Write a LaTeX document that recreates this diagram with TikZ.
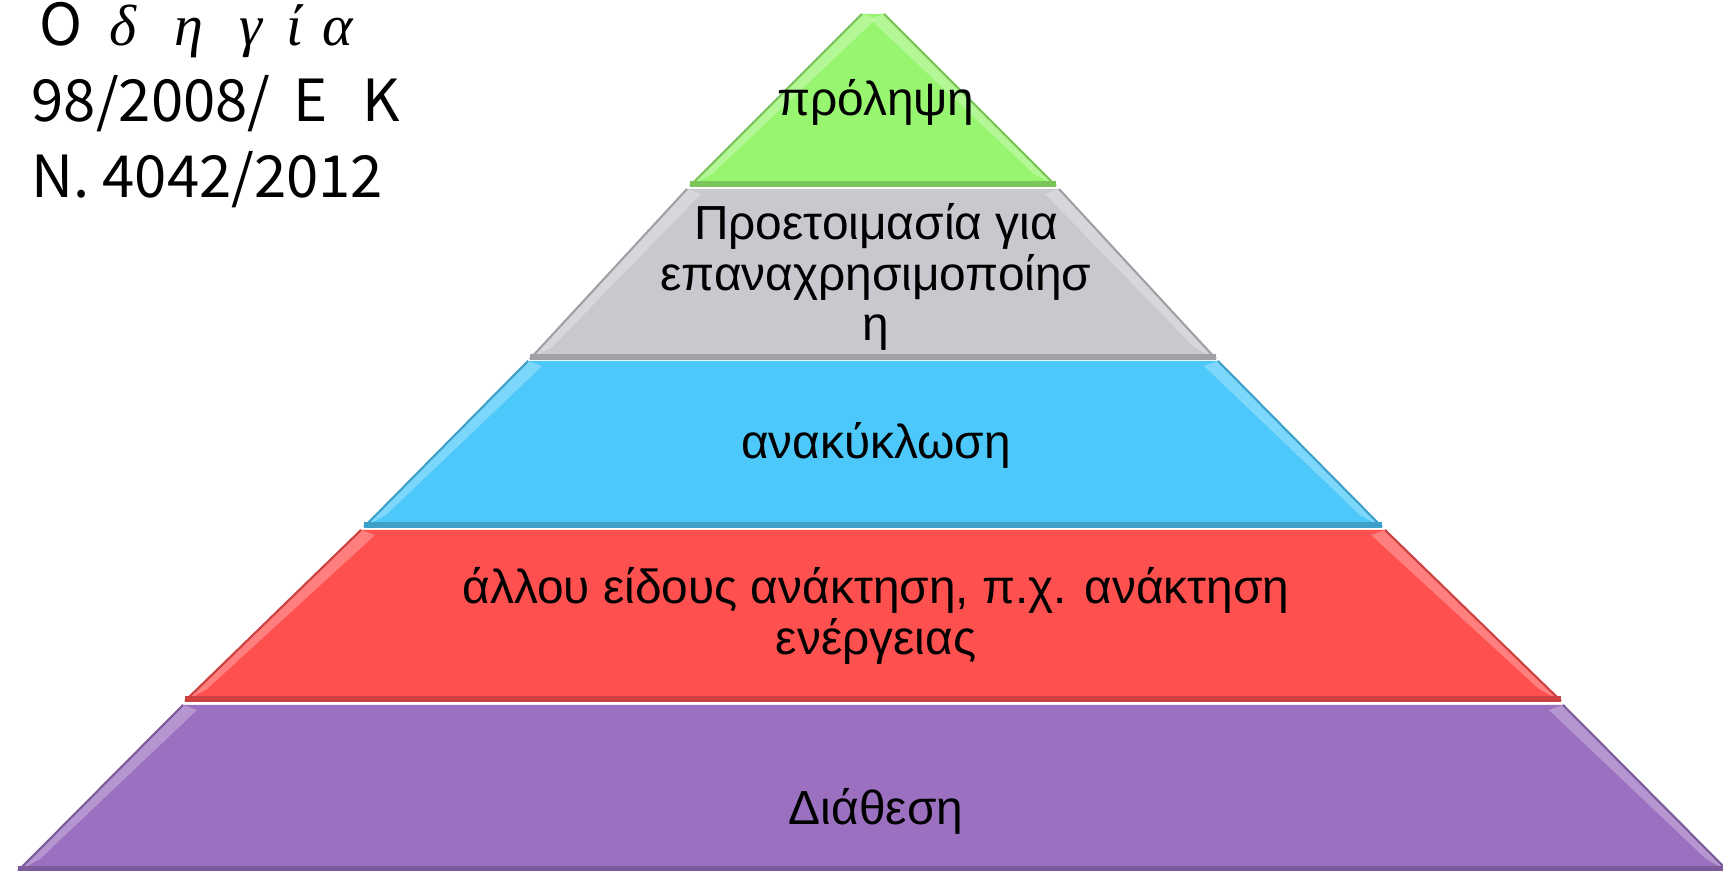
\documentclass[tikz,border=0pt]{standalone}
\usepackage{fontspec}
\usepackage{xcolor}
\usepackage{tikz}
\setmainfont{Liberation Sans}
\newfontfamily\jpfont{Noto Sans CJK JP}
\newfontfamily\grfont{Liberation Serif}
\definecolor{lgreen}{RGB}{152,245,112}
\definecolor{lgray}{RGB}{200,200,207}
\definecolor{lblue}{RGB}{76,200,250}
\definecolor{lred}{RGB}{255,80,80}
\definecolor{lpurple}{RGB}{156,112,192}
\newcommand{\gl}[2]{\makebox[#1cm][l]{#2}}
\begin{document}
\begin{tikzpicture}[x=0.01cm,y=-0.01cm,
  lvl/.style={align=center,font=\fontsize{13.6}{14.3}\selectfont},
  tag/.style={anchor=base west,inner sep=0pt,font=\jpfont\fontsize{16.5}{20}\selectfont}]
  \useasboundingbox (0,0) rectangle (1723,871);
  % pyramid levels: top y / bottom y / top half width / bottom half width / colour
  \foreach \yt/\yb/\wt/\wb/\c in {14/186/11/183/lgreen,189/359/186/343/lgray,
      361/527/345/509/lblue,530/701/512/688/lred,705/871/690/855/lpurple}{
    \fill[\c] (873-\wt,\yt) -- (873+\wt,\yt) -- (873+\wb,\yb) -- (873-\wb,\yb) -- cycle;
    % light bevel along the slanted sides
    \fill[\c!55!white,opacity=.6] (873-\wt,\yt) -- (873-\wt+14,\yt+5) -- (873-\wb+22,\yb-12)
      -- (873-\wb,\yb) -- cycle;
    \fill[\c!55!white,opacity=.6] (873+\wt,\yt) -- (873+\wt-14,\yt+5) -- (873+\wb-22,\yb-12)
      -- (873+\wb,\yb) -- cycle;
    \draw[\c!80!black,line width=.6pt] (873-\wt,\yt) -- (873-\wb,\yb) (873+\wt,\yt) -- (873+\wb,\yb);
    \draw[\c!80!black,line width=1.5pt] (873-\wb,\yb-2) -- (873+\wb,\yb-2);
  }
  \node[lvl] (prolipsi) at (876,102) {πρόληψη};
  \node[lvl] (proetoimasia) at (876,277) {Προετοιμασία για\\επαναχρησιμοποίησ\\η};
  \node[lvl] (anakyklosi) at (876,445) {ανακύκλωση};
  \node[lvl] (anaktisi) at (876,616) {άλλου είδους ανάκτηση, π.χ. ανάκτηση\\ενέργειας};
  \node[lvl] (diathesi) at (876,811) {Διάθεση};
  % directive and law at the top left
  \node[tag] (odigia) at (39,46) {\gl{0.70}{Ο}{\grfont\itshape\gl{0.65}{δ}\gl{0.65}{η}\gl{0.47}{γ}\gl{0.36}{ί}α}};
  \node[tag] (ek) at (31,122) {98/2008/\hspace{0.4em}Ε\hspace{0.6em}Κ};
  \node[tag] (nomos) at (31,198) {N. 4042/2012};
\end{tikzpicture}
\end{document}
